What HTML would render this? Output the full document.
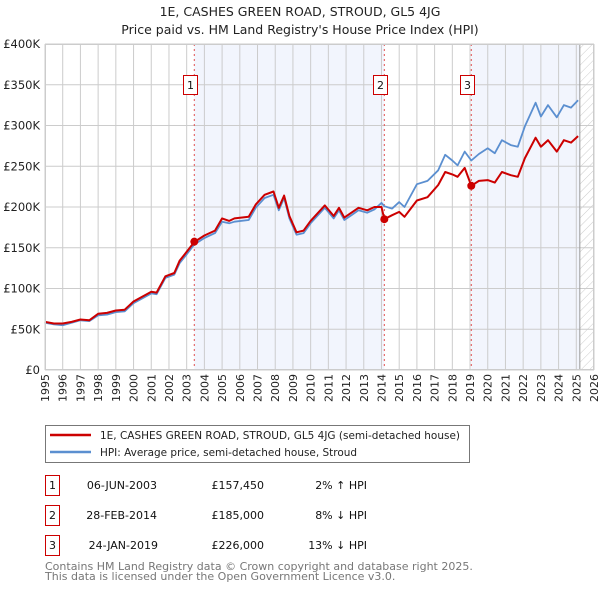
<!DOCTYPE html>
<html><head><meta charset="utf-8"><style>
body{margin:0;background:#fff;font-family:"DejaVu Sans","Liberation Sans",sans-serif}
svg text{font-family:"DejaVu Sans","Liberation Sans",sans-serif}
</style></head><body>
<svg id="c" width="600" height="590" viewBox="0 0 600 590" xmlns="http://www.w3.org/2000/svg">
<defs><pattern id="hatch" width="6" height="6" patternUnits="userSpaceOnUse" patternTransform="rotate(45)"><line x1="0" y1="0" x2="0" y2="6" stroke="#ccc" stroke-width="1"/></pattern></defs>
<text x="300" y="16" text-anchor="middle" font-size="12.5" fill="#222">1E, CASHES GREEN ROAD, STROUD, GL5 4JG</text>
<text x="300" y="34" text-anchor="middle" font-size="12.5" fill="#222">Price paid vs. HM Land Registry's House Price Index (HPI)</text>
<g id="plot"></g>
<g>
<rect x="45.5" y="425.5" width="424" height="37" fill="#fff" stroke="#777"/>
<line x1="50" y1="435" x2="91" y2="435" stroke="#cc0000" stroke-width="2.5"/>
<text x="100" y="439" font-size="11" textLength="360" lengthAdjust="spacingAndGlyphs" fill="#222">1E, CASHES GREEN ROAD, STROUD, GL5 4JG (semi-detached house)</text>
<line x1="50" y1="452" x2="91" y2="452" stroke="#5b8fd0" stroke-width="2.5"/>
<text x="100" y="456" font-size="11" textLength="257" lengthAdjust="spacingAndGlyphs" fill="#222">HPI: Average price, semi-detached house, Stroud</text>
</g>
<g font-size="11" fill="#111">
<rect x="45.5" y="475.5" width="14" height="20" fill="none" stroke="#c00"/><text x="52.5" y="489" text-anchor="middle">1</text>
<text x="157" y="489" text-anchor="end">06-JUN-2003</text>
<text x="264" y="489" text-anchor="end">£157,450</text>
<text x="367" y="489" text-anchor="end">2% ↑ HPI</text>
<rect x="45.5" y="505.5" width="14" height="20" fill="none" stroke="#c00"/><text x="52.5" y="519" text-anchor="middle">2</text>
<text x="157" y="519" text-anchor="end">28-FEB-2014</text>
<text x="264" y="519" text-anchor="end">£185,000</text>
<text x="367" y="519" text-anchor="end">8% ↓ HPI</text>
<rect x="45.5" y="535.5" width="14" height="20" fill="none" stroke="#c00"/><text x="52.5" y="549" text-anchor="middle">3</text>
<text x="158" y="549" text-anchor="end">24-JAN-2019</text>
<text x="264" y="549" text-anchor="end">£226,000</text>
<text x="367" y="549" text-anchor="end">13% ↓ HPI</text>
</g>
<text x="45" y="570" font-size="11" fill="#777">Contains HM Land Registry data © Crown copyright and database right 2025.</text>
<text x="45" y="580" font-size="11" fill="#777">This data is licensed under the Open Government Licence v3.0.</text>
</svg>
<script>
const dates=[1995.0,1995.5,1996.0,1996.5,1997.0,1997.5,1998.0,1998.5,1999.0,1999.5,2000.0,2000.5,2001.0,2001.3,2001.8,2002.3,2002.6,2003.0,2003.43,2004.0,2004.6,2005.0,2005.4,2005.7,2006.5,2006.9,2007.4,2007.9,2008.2,2008.5,2008.8,2009.2,2009.6,2010.0,2010.8,2011.3,2011.6,2011.9,2012.3,2012.7,2013.2,2013.6,2014.0,2014.16,2014.6,2015.0,2015.3,2016.0,2016.6,2017.2,2017.6,2018.0,2018.3,2018.7,2019.07,2019.5,2020.0,2020.4,2020.8,2021.3,2021.7,2022.1,2022.7,2023.0,2023.4,2023.9,2024.3,2024.7,2025.1];
const hpiValues=[58,56,55,58,61,60,67,68,71,72,82,88,94,93,113,117,131,142,154,162,168,182,180,182,184,199,211,215,196,211,186,166,168,180,199,186,196,184,190,196,193,197,205,201,198,206,200,228,232,245,264,257,251,268,257,265,272,266,282,276,274,299,328,311,325,310,325,322,331];
const priceValues=[59,57,57,59,62,61,69,70,73,74,84,90,96,95,115,119,134,145,157,165,171,186,183,186,188,203,215,219,199,214,189,169,171,183,202,189,199,187,193,199,196,200,200,185,190,194,188,208,212,227,243,240,237,248,226,232,233,230,243,239,237,260,285,274,282,268,282,279,287];
const saleDates=[2003.43,2014.16,2019.07];
const salePrices=[157.45,185,226];
const saleLabels=["1","2","3"];
const yTicks=[0,50,100,150,200,250,300,350,400];
const yTickLabels=["£0","£50K","£100K","£150K","£200K","£250K","£300K","£350K","£400K"];
const xStart=1995,xEnd=2026,dataEnd=2025.2;

const X0=45,X1=594,Y0=370,Y1=44;
const sx=v=>X0+(v-xStart)/(xEnd-xStart)*(X1-X0);
const sy=v=>Y0-v/400*(Y0-Y1);
const NS="http://www.w3.org/2000/svg";
const g=document.getElementById('plot');
function mk(tag,attrs,parent){const e=document.createElementNS(NS,tag);for(const k in attrs)e.setAttribute(k,attrs[k]);(parent||g).appendChild(e);return e;}
let e;
e=mk('rect',{x:sx(saleDates[0]),y:Y1,width:sx(saleDates[1])-sx(saleDates[0]),height:Y0-Y1,fill:'#f2f5fd'});


e=mk('rect',{x:sx(saleDates[2]),y:Y1,width:sx(dataEnd)-sx(saleDates[2]),height:Y0-Y1,fill:'#f2f5fd'});


e=mk('rect',{x:sx(dataEnd),y:Y1,width:X1-sx(dataEnd),height:Y0-Y1,fill:'url(#hatch)'});


for(let yr=xStart;yr<=xEnd;yr++){
 e=mk('line',{x1:sx(yr),x2:sx(yr),y1:Y1,y2:Y0,stroke:'#ccc','stroke-width':1});
 
 
 const t=mk('text',{x:0,y:0,'font-size':11,fill:'#222','text-anchor':'end',transform:`translate(${sx(yr)+4},${Y0+4}) rotate(-90)`});
 t.textContent=yr;
 
 
}
yTicks.forEach((v,i)=>{
 e=mk('line',{x1:X0,x2:X1,y1:sy(v),y2:sy(v),stroke:'#ccc','stroke-width':1});
 
 
 const t=mk('text',{x:X0-5,y:sy(v)+4,'font-size':11.5,fill:'#222','text-anchor':'end'});
 t.textContent=yTickLabels[i];
 
 
});
e=mk('line',{x1:sx(dataEnd),x2:sx(dataEnd),y1:Y1,y2:Y0,stroke:'#999','stroke-width':1});


saleDates.forEach((d,i)=>{
 e=mk('line',{x1:sx(d),x2:sx(d),y1:Y1,y2:Y0,stroke:'#e05050','stroke-width':1,'stroke-dasharray':'2,3'});
 
 
});
const pts=a=>a.map((v,i)=>sx(dates[i]).toFixed(1)+','+sy(v).toFixed(1)).join(' ');
e=mk('polyline',{points:pts(hpiValues),fill:'none',stroke:'#5b8fd0','stroke-width':1.8,'stroke-linejoin':'round'});


e=mk('polyline',{points:pts(priceValues),fill:'none',stroke:'#cc0000','stroke-width':2,'stroke-linejoin':'round'});


saleDates.forEach((d,i)=>{
 e=mk('circle',{cx:sx(d),cy:sy(salePrices[i]),r:4,fill:'#cc0000'});
 
 
 e=mk('rect',{x:Math.round(sx(d))-10.5,y:75.5,width:14,height:19,fill:'#fff',stroke:'#c00'});
 
 
 const t=mk('text',{x:Math.round(sx(d))-3.5,y:89,'font-size':11,fill:'#111','text-anchor':'middle'});
 t.textContent=saleLabels[i];
 
 
});
e=mk('rect',{x:X0+0.5,y:Y1+0.5,width:X1-X0-1,height:Y0-Y1-1,fill:'none',stroke:'#ccc'});


</script>
</body></html>
